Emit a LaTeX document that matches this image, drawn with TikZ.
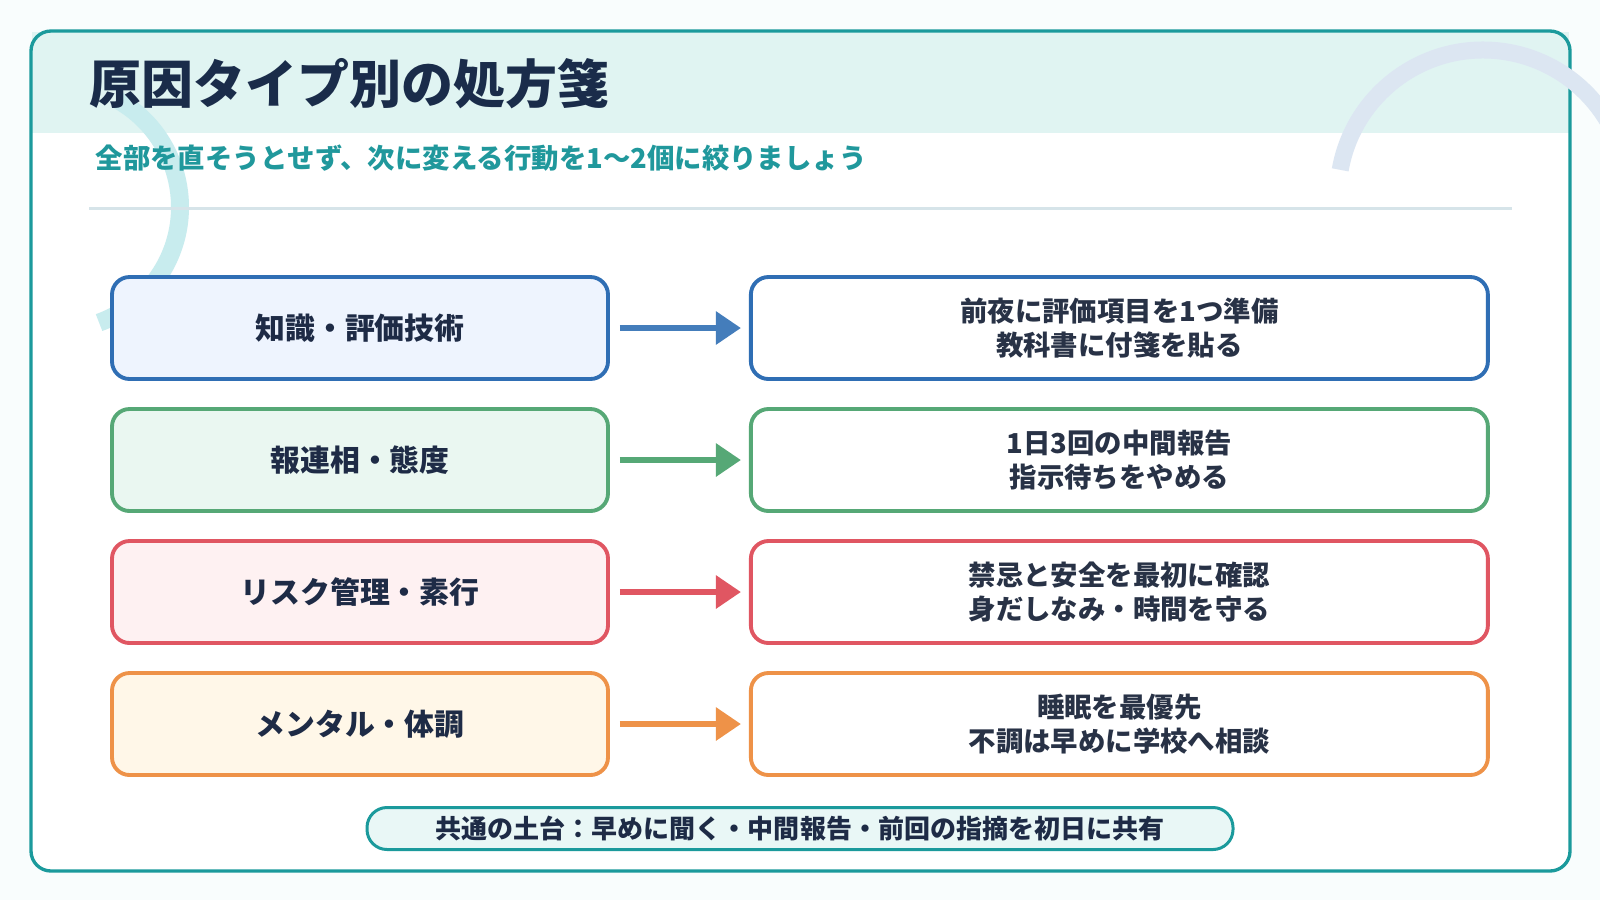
\documentclass[tikz,border=0pt]{standalone}
\usepackage{fontspec}
\setmainfont{Noto Sans CJK JP}[BoldFont={Noto Sans CJK JP Black}]
\newfontfamily\titlefont{Noto Sans CJK JP Black}
\usepackage{xcolor}
\usepackage{tikz}
\usetikzlibrary{positioning, arrows.meta}
\definecolor{pagebg}{RGB}{249,253,253}
\definecolor{frameteal}{RGB}{27,154,156}
\definecolor{bandteal}{RGB}{224,244,242}
\definecolor{subteal}{RGB}{32,152,156}
\definecolor{titleink}{RGB}{26,44,74}
\definecolor{navyink}{RGB}{30,43,70}
\definecolor{slateink}{RGB}{40,50,70}
\definecolor{sepgrey}{RGB}{214,228,233}
\definecolor{arccyan}{RGB}{200,236,238}
\definecolor{arcblue}{RGB}{220,230,242}
\definecolor{knowblue}{RGB}{47,110,180}
\definecolor{knowfill}{RGB}{238,244,254}
\definecolor{talkgreen}{RGB}{86,168,118}
\definecolor{talkfill}{RGB}{234,247,241}
\definecolor{riskred}{RGB}{224,86,98}
\definecolor{riskfill}{RGB}{254,241,242}
\definecolor{mindorange}{RGB}{238,146,72}
\definecolor{mindfill}{RGB}{255,247,232}
\definecolor{pillfill}{RGB}{233,247,246}

\begin{document}
\begin{tikzpicture}[
    every node/.style={font=\bfseries},
    cause box/.style={rectangle, rounded corners=5pt, line width=1.1pt, align=center,
                      minimum width=4.96cm, minimum height=1.02cm, text=navyink,
                      font=\bfseries\fontsize{8.5pt}{10pt}\selectfont},
    rx box/.style={rectangle, rounded corners=5pt, line width=1.1pt, align=center,
                   minimum width=7.37cm, minimum height=1.02cm, fill=white, text=slateink,
                   font=\bfseries\fontsize{7.8pt}{9.6pt}\selectfont},
    arr/.style={-{Triangle[length=0.25cm,width=0.32cm]}, line width=1.7pt,
                shorten <=0.1cm, shorten >=0.08cm},
  ]
  \useasboundingbox (0,0) rectangle (16,-9);
  \fill[pagebg] (0,0) rectangle (16,-9);

  % ============ FRAME + HEADER BAND ============
  \fill[white, rounded corners=0.2cm] (0.31,-0.31) rectangle (15.70,-8.71);
  \fill[bandteal] (0.32,-0.32) rectangle (15.69,-1.33);
  \draw[frameteal, line width=0.95pt, rounded corners=0.2cm] (0.31,-0.31) rectangle (15.70,-8.71);

  % decorative rings
  \begin{scope}
    \clip (0,0) rectangle (16,-9);
    \draw[arccyan, line width=0.18cm] ([shift={(60:1.23)}]0.57,-2.07) arc[start angle=60, end angle=-70, radius=1.23];
    \draw[arcblue, line width=0.17cm] ([shift={(170:1.45)}]14.83,-1.95) arc[start angle=170, end angle=15, radius=1.45];
  \end{scope}

  % ============ TITLE ============
  \node[anchor=west, inner sep=0pt, text=titleink, font=\titlefont\fontsize{14.8pt}{16pt}\selectfont]
    (title) at (0.89,-0.84) {原因タイプ別の処方箋};
  \node[anchor=west, inner sep=0pt, text=subteal, font=\bfseries\fontsize{7.8pt}{9pt}\selectfont]
    (subtitle) at (0.95,-1.58) {全部を直そうとせず、次に変える行動を1〜2個に絞りましょう};
  \draw[sepgrey, line width=0.85pt] (0.89,-2.08) -- (15.12,-2.08);

  % ============ CAUSES (left) ============
  \node[cause box, draw=knowblue, fill=knowfill] (c1) at (3.60,-3.28) {知識・評価技術};
  \node[cause box, draw=talkgreen, fill=talkfill] (c2) at (3.60,-4.60) {報連相・態度};
  \node[cause box, draw=riskred, fill=riskfill] (c3) at (3.60,-5.92) {リスク管理・素行};
  \node[cause box, draw=mindorange, fill=mindfill] (c4) at (3.60,-7.24) {メンタル・体調};

  % ============ PRESCRIPTIONS (right) ============
  \node[rx box, draw=knowblue, right=1.39cm of c1] (p1) {前夜に評価項目を1つ準備\\教科書に付箋を貼る};
  \node[rx box, draw=talkgreen, right=1.39cm of c2] (p2) {1日3回の中間報告\\指示待ちをやめる};
  \node[rx box, draw=riskred, right=1.39cm of c3] (p3) {禁忌と安全を最初に確認\\身だしなみ・時間を守る};
  \node[rx box, draw=mindorange, right=1.39cm of c4] (p4) {睡眠を最優先\\不調は早めに学校へ相談};

  \draw[arr, color=knowblue!90!white] (c1) -- (p1);
  \draw[arr, color=talkgreen] (c2) -- (p2);
  \draw[arr, color=riskred] (c3) -- (p3);
  \draw[arr, color=mindorange] (c4) -- (p4);

  % ============ COMMON BASE ============
  \node[rectangle, rounded corners=0.2cm, draw=frameteal, fill=pillfill, line width=0.85pt,
        minimum width=8.66cm, minimum height=0.42cm, inner sep=0pt, text=navyink,
        font=\bfseries\fontsize{7.4pt}{9pt}\selectfont]
    (base) at (8.00,-8.285) {共通の土台：早めに聞く・中間報告・前回の指摘を初日に共有};

\end{tikzpicture}
\end{document}
